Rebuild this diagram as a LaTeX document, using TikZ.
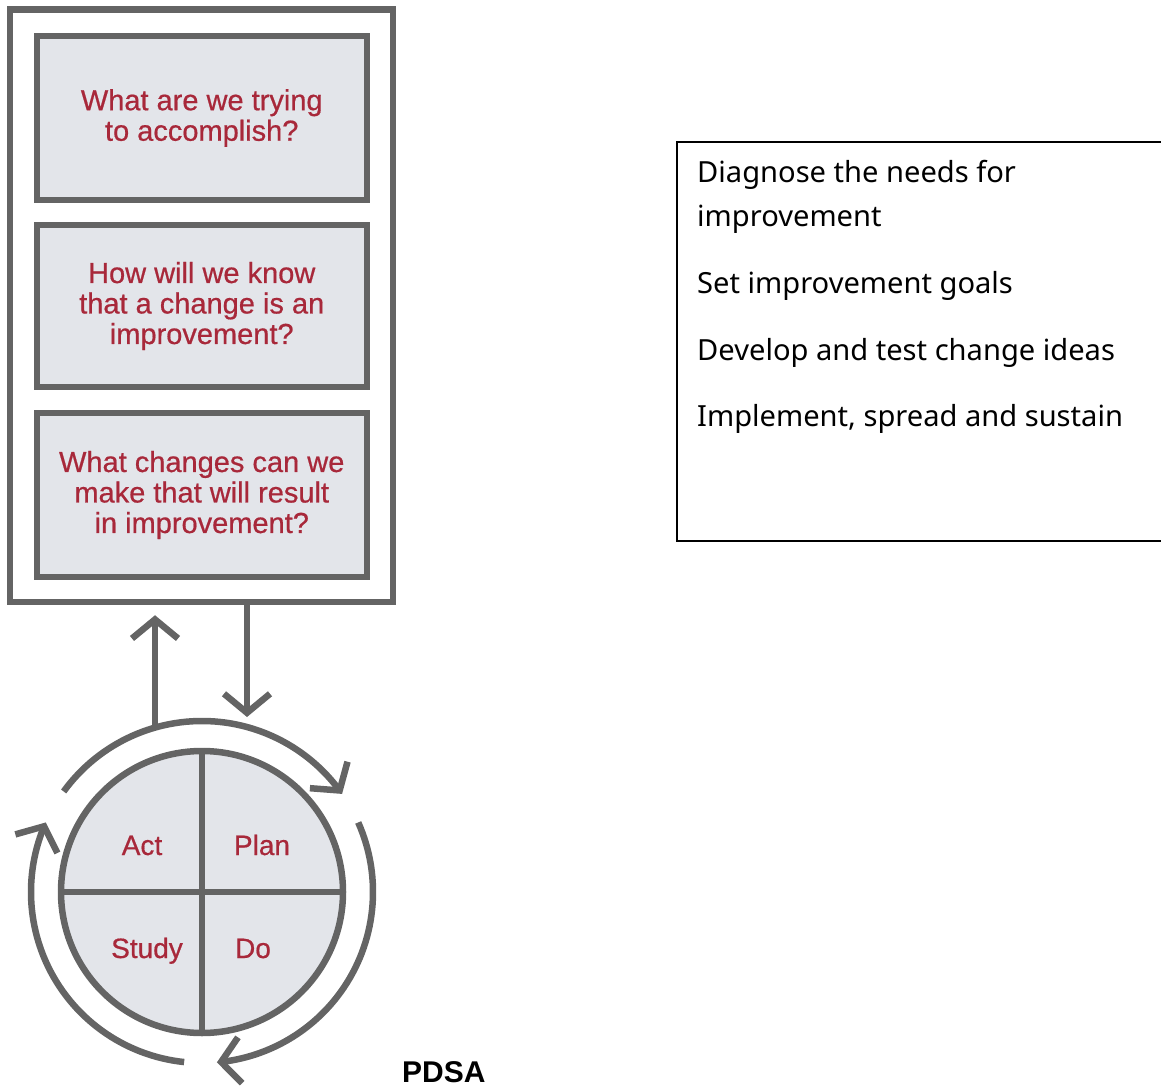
\documentclass[tikz,border=0pt]{standalone}
\usepackage{fontspec}
\setmainfont{Liberation Sans}
\newfontfamily\notefont{Noto Sans}
\newfontfamily\qfont[FakeBold=0.6]{Liberation Sans}
\usetikzlibrary{arrows.meta,bending}
\definecolor{qgray}{RGB}{100,100,100}
\definecolor{qfill}{RGB}{227,229,234}
\definecolor{qred}{RGB}{168,40,58}
\begin{document}
\begin{tikzpicture}[x=1pt, y=1pt,
  qbox/.style={draw=qgray, line width=6.5pt, fill=qfill, minimum width=330pt,
               minimum height=164pt, align=center, text=qred,
               font=\qfont\fontsize{29}{30.5}\selectfont},
  arr/.style={draw=qgray, line width=6.5pt, -{Straight Barb[length=19pt,width=46pt]}},
  phase/.style={text=qred, anchor=base, font=\qfont\fontsize{28}{30}\selectfont},
  item/.style={anchor=base west, inner sep=0pt, align=left,
               font=\notefont\fontsize{29.1}{44}\selectfont}
]
  \useasboundingbox (0,0) rectangle (1161,1088);
  \node[draw=qgray, line width=6.5pt, minimum width=383pt,
        minimum height=592.5pt] (qframe) at (201.5,782.25) {};
  \node[qbox] (aim) at (201.75,970) {What are we trying\\to accomplish?};
  \node[qbox, minimum height=162pt] (measure) at (201.75,782)
        {How will we know\\that a change is an\\improvement?};
  \node[qbox] (change) at (201.75,593)
        {What changes can we\\make that will result\\in improvement?};

  \node[circle, draw=qgray, line width=6.5pt, fill=qfill, minimum size=282pt,
        inner sep=0pt] (cyc) at (202,196) {};
  \draw[qgray, line width=6.5pt] (cyc.north) -- (cyc.south);
  \draw[qgray, line width=6.5pt] (cyc.west) -- (cyc.east);
  \node[phase] (act) at (142,233) {Act};
  \node[phase] (plan) at (262,233) {Plan};
  \node[phase] (study) at (147,130) {Study};
  \node[phase] (do) at (253,130) {Do};

  \draw[arr] ([shift={(144:171)}]cyc.center) arc[start angle=144, end angle=35, radius=171];
  \draw[arr] ([shift={(24:171)}]cyc.center) arc[start angle=24, end angle=-85, radius=171];
  \draw[arr] ([shift={(-96:171)}]cyc.center) arc[start angle=-96, end angle=-204, radius=171];

  \coordinate (upx) at (155,360.4);
  \coordinate (dnx) at (247,371);
  \draw[arr, shorten >=10pt] (upx) -- (upx |- qframe.south);
  \draw[arr] (dnx |- qframe.south) -- (dnx);

  \node[font=\bfseries\fontsize{30}{36}\selectfont, anchor=base west,
        inner sep=0pt] (title) at (402,6) {PDSA};

  \draw[line width=2pt] (1161,946) -| (677,547) -- (1161,547);
  \node[item] (diag) at (697,861) {Diagnose the needs for\\improvement};
  \node[item] (goals) at (697,794) {Set improvement goals};
  \node[item] (ideas) at (697,727) {Develop and test change ideas};
  \node[item] (spread) at (697,661) {Implement, spread and sustain};
\end{tikzpicture}
\end{document}
